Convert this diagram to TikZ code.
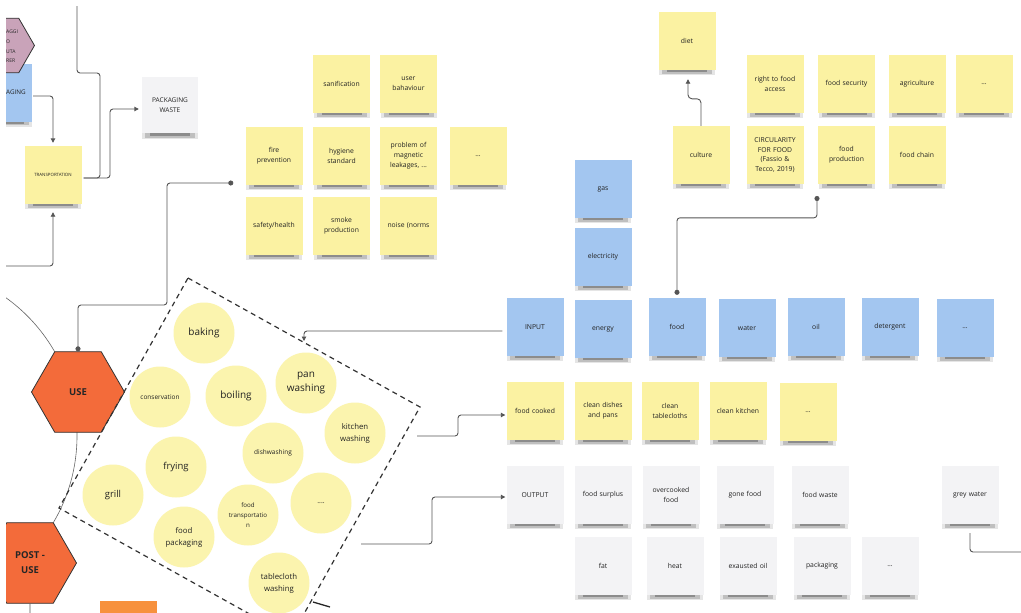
\documentclass[tikz,border=0pt]{standalone}
\usepackage{fontspec}
\setmainfont{Open Sans}
\usetikzlibrary{shapes.geometric,arrows.meta,calc}
\definecolor{cyel}{HTML}{FBF2A2}
\definecolor{ccirc}{HTML}{FBF4AE}
\definecolor{cblue}{HTML}{A3C6F0}
\definecolor{cwhite}{HTML}{F3F3F5}
\definecolor{corange}{HTML}{F36B3A}
\definecolor{corange2}{HTML}{F7913D}
\definecolor{cpurple}{HTML}{C9A3B9}
\definecolor{cline}{HTML}{555555}
\definecolor{ctext}{HTML}{222222}
\newcommand\stk[4]{%
  \fill[black!10] ($(#2)+(-28,28)$) rectangle ($(#2)+(28,34)$);
  \fill[black!25] ($(#2)+(-25,28)$) rectangle ($(#2)+(25,32.5)$);
  \fill[black!45] ($(#2)+(-20,28)$) rectangle ($(#2)+(20,31)$);
  \node[#3] (#1) at (#2) {#4};}
\begin{document}
\begin{tikzpicture}[x=1pt,y=-1pt,
  note/.style={minimum width=57pt, minimum height=58pt, inner sep=1pt, text width=54pt, align=center, font=\fontsize{6.8}{9.8}\selectfont, text=ctext},
  ynote/.style={note, fill=cyel},
  bnote/.style={note, fill=cblue},
  wnote/.style={note, fill=cwhite},
  bubble/.style={circle, fill=ccirc, minimum size=61pt, inner sep=0pt, align=center, text=ctext},
  fbig/.style={font=\fontsize{10}{14}\selectfont},
  fmid/.style={font=\fontsize{7.8}{12}\selectfont},
  fsmall/.style={font=\fontsize{6.5}{10}\selectfont},
  hex/.style={regular polygon, regular polygon sides=6, minimum size=93pt, inner sep=0pt, fill=corange, draw=black!80, line width=0.8pt, font=\bfseries\fontsize{9.5}{15}\selectfont, align=center, text=black!85},
  conn/.style={draw=cline, line width=0.9pt, rounded corners=3pt},
  arr/.style={conn, -{Triangle[length=4.5pt,width=4.5pt]}},
  dots/.style={conn, {Circle[length=5pt]}-{Circle[length=5pt]}},
  dbox/.style={draw=black!80, line width=1.2pt, dash pattern=on 5pt off 4pt}
]
\fill[white] (0,0) rectangle (1021,613);
\useasboundingbox (0,0) rectangle (1021,613);
\begin{scope}
\clip (6,6) rectangle (1021,613);
% big thin arc
\draw[black!60, line width=0.6pt] (-93,436) circle[radius=170];

% top-left
\stk{pack}{3.5,92.5}{bnote}{}
\node[font=\fontsize{6.3}{8}\selectfont, text=ctext, anchor=west, inner sep=0pt] (packt) at (6,92) {AGING};
\node[regular polygon, regular polygon sides=6, minimum size=63pt, inner sep=0pt, fill=cpurple, draw=black!80, line width=0.8pt] (pur) at (3,45.5) {};
\begin{scope}[every node/.style={font=\fontsize{5}{6}\selectfont, text=black!85, anchor=west, inner sep=0pt}]
\node (p1) at (6,32) {AGGI};
\node (p2) at (6,42) {O};
\node (p3) at (6,52) {UTA};
\node (p4) at (6,61) {RER};
\end{scope}
\stk{transp}{53,175}{ynote, font=\fontsize{4.4}{6}\selectfont}{TRANSPORTATION}
\stk{pw}{170,105}{wnote, minimum width=56pt, minimum height=56pt, font=\fontsize{6.5}{10.5}\selectfont}{PACKAGING\\WASTE}

\coordinate (lft) at (0,266);
\coordinate (tl) at (77,-2);
\draw[arr] ($(pack.east)+(1,3.5)$) -| ($(transp.north)+(0,-3)$);
\draw[arr] (lft) -| ($(transp.south)+(0,8)$);
\draw[conn] (tl) -- (77,73) -- (100,73) -- (100,178) -- ($(transp.east)+(2,3)$);
\draw[arr] ($(transp.east)+(2,3)$) -| (110,140) |- ($(pw.west)+(-3,4)$);

% top middle group
\stk{sani}{341.5,84}{ynote}{sanification}
\stk{userb}{408.5,84}{ynote}{user\\bahaviour}
\stk{fire}{274,156}{ynote}{fire\\prevention}
\stk{hyg}{341.5,156}{ynote}{hygiene\\standard}
\stk{magn}{408.5,156}{ynote}{problem of\\magnetic\\leakages, ...}
\stk{tdots}{478,156}{ynote}{...}
\stk{safety}{274,226}{ynote}{safety/health}
\stk{smoke}{341.5,226}{ynote}{smoke\\production}
\stk{noise}{408.5,226}{ynote}{noise (norms}

% top right group
\stk{diet}{687,41}{ynote}{diet}
\stk{right}{775,84}{ynote}{right to food\\access}
\stk{fsec}{846.5,84}{ynote}{food security}
\stk{agri}{917,84}{ynote}{agriculture}
\stk{rdots}{984,84}{ynote}{...}
\stk{culture}{701,155}{ynote}{culture}
\stk{circ}{775,155}{ynote}{CIRCULARITY\\FOR FOOD\\(Fassio \&\\Tecco, 2019)}
\stk{fprod}{846.5,155}{ynote}{food\\production}
\stk{fchain}{917,155}{ynote}{food chain}
\draw[arr, rounded corners=4pt] (culture.north) -- ++(0,-27) -| ($(diet.south)+(1,9)$);

% blue row
\stk{gas}{603,189}{bnote}{gas}
\stk{elec}{603,257}{bnote}{electricity}
\stk{input}{535,327}{bnote}{INPUT}
\stk{energy}{603,329}{bnote}{energy}
\stk{food}{677,327}{bnote}{food}
\stk{water}{747,328}{bnote}{water}
\stk{oil}{816,327}{bnote}{oil}
\stk{deter}{890,327}{bnote}{detergent}
\stk{bdots}{965,328}{bnote}{...}
\coordinate (fpd) at (817,196);
\draw[dots] (fpd) |- ($(food.north)+(0,-80)$) -- ($(food.north)+(0,-3)$);

% outputs
\stk{cooked}{535,411}{ynote}{food cooked}
\stk{cdish}{603,411}{ynote}{clean dishes\\and pans}
\stk{ctab}{670,411}{ynote}{clean\\tablecloths}
\stk{ckit}{738,411}{ynote}{clean kitchen}
\stk{ydots}{808,412}{ynote}{...}
\stk{output}{535,495}{wnote}{OUTPUT}
\stk{surplus}{603,495}{wnote}{food surplus}
\stk{overc}{671,495}{wnote}{overcooked\\food}
\stk{gone}{745,495}{wnote}{gone food}
\stk{fwaste}{820,495}{wnote}{food waste}
\stk{grey}{970,495}{wnote}{grey water}
\stk{fat}{603,566}{wnote}{fat}
\stk{heat}{675,566}{wnote}{heat}
\stk{exoil}{748,566}{wnote}{exausted oil}
\stk{packg}{822,566}{wnote}{packaging}
\stk{wdots}{890,566}{wnote}{...}
\coordinate (gend) at (1025,552);
\draw[conn] ($(grey.south)+(0,9)$) |- (gend);

% hexagons
\node[hex] (use) at (78,392) {USE};
\node[hex] (postuse) at (30,563) {POST -\\USE};
\fill[corange2] (100,601) rectangle (157,616);
\coordinate (pbot) at (30,616);
\draw[cline, line width=0.9pt] (postuse.south) -- (pbot);

% bubbles
\node[bubble, fbig] (baking) at (204,333) {baking};
\node[bubble, fsmall] (cons) at (160,397) {conservation};
\node[bubble, fbig] (boil) at (236,396) {boiling};
\node[bubble, font=\fontsize{9.5}{13}\selectfont] (fry) at (176,467) {frying};
\node[bubble, font=\fontsize{9.5}{13}\selectfont] (grill) at (113,495) {grill};
\node[bubble, fmid] (fpack) at (184,537) {food\\packaging};
\node[bubble, fbig] (panw) at (306,383) {pan\\washing};
\node[bubble, fmid] (kitw) at (355,433) {kitchen\\washing};
\node[bubble, fsmall] (dishw) at (273,453) {dishwashing};
\node[bubble, font=\fontsize{7}{10}\selectfont] (cdots) at (321,503) {....};
\node[bubble, font=\fontsize{6.2}{10}\selectfont] (ftrans) at (248,515) {food\\transportatio\\n};
\node[bubble, fmid] (tabw) at (279,583) {tablecloth\\washing};

% dashed box
\coordinate (bt) at (188,278);
\coordinate (br) at (420,407);
\coordinate (bb) at (291,637);
\coordinate (bl) at (59,508);
\draw[dbox] (bt) -- (br) -- (bb) -- (bl) -- cycle;
\draw[black!85, line width=1.3pt] (313,602) -- (330,607);

% connectors around box
\coordinate (fdot) at ($(fire.west)+(-12,27)$);
\draw[dots] (use.north) |- (167,305) |- (fdot);
\coordinate (bin) at (304,341);
\draw[arr] ($(input.west)+(-4,4)$) -| (bin);
\coordinate (o1) at (417,436);
\coordinate (o2) at (361,544);
\draw[arr] (o1) -| (458,425) |- ($(cooked.west)+(-1,4)$);
\draw[arr] (o2) -| (432,520) |- ($(output.west)+(-1,2)$);
\end{scope}
\end{tikzpicture}
\end{document}
